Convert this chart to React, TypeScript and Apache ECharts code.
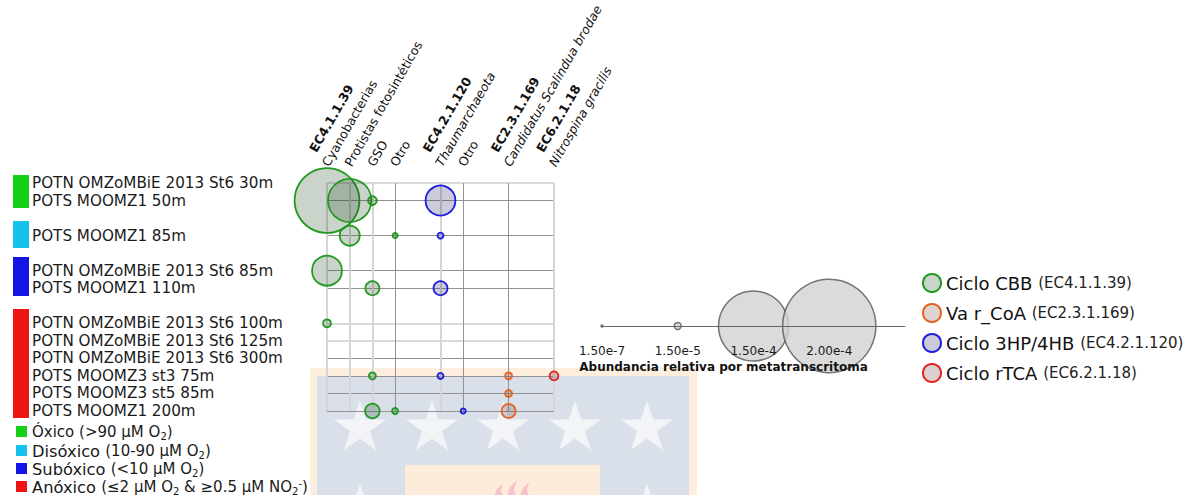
import React, { useEffect, useRef } from "react";
import * as echarts from "echarts";

const FONT = "DejaVu Sans";

// ---- categories ----
const samples = [
  "POTN OMZoMBiE 2013 St6 30m",
  "POTS MOOMZ1 50m",
  "",
  "POTS MOOMZ1 85m",
  "",
  "POTN OMZoMBiE 2013 St6 85m",
  "POTS MOOMZ1 110m",
  "",
  "POTN OMZoMBiE 2013 St6 100m",
  "POTN OMZoMBiE 2013 St6 125m",
  "POTN OMZoMBiE 2013 St6 300m",
  "POTS MOOMZ3 st3 75m",
  "POTS MOOMZ3 st5 85m",
  "POTS MOOMZ1 200m",
];

const taxa = [
  "Cyanobacterias",
  "Protistas fotosintéticos",
  "GSO",
  "Otro",
  "",
  "Thaumarchaeota",
  "Otro",
  "",
  "Candidatus Scalindua brodae",
  "",
  "Nitrospina gracilis",
];
const ecHeaders = ["EC4.1.1.39", "", "", "", "", "EC4.2.1.120", "", "", "EC2.3.1.169", "", "EC6.2.1.18"];
const italicTaxa = [false, false, false, false, false, true, false, false, true, false, true];

// ---- series: [taxon index, sample index, relative abundance] ----
const cycleNames = ["Ciclo CBB", "Va r_CoA", "Ciclo 3HP/4HB", "Ciclo rTCA"];
const cycleEC = ["EC4.1.1.39", "EC2.3.1.169", "EC4.2.1.120", "EC6.2.1.18"];

const cbbData = [
  [0, 1, 1.39e-4],
  [1, 1, 9.3e-5],
  [2, 1, 1.9e-5],
  [1, 3, 4.3e-5],
  [3, 3, 1.1e-5],
  [0, 5, 6.4e-5],
  [2, 6, 3.0e-5],
  [0, 8, 1.7e-5],
  [2, 11, 1.5e-5],
  [2, 13, 3.1e-5],
  [3, 13, 1.3e-5],
];
const hpData = [
  [5, 1, 6.4e-5],
  [5, 3, 1.3e-5],
  [5, 6, 3.0e-5],
  [5, 11, 1.3e-5],
  [6, 13, 1.1e-5],
];
const coaData = [
  [8, 11, 1.5e-5],
  [8, 12, 1.5e-5],
  [8, 13, 3.0e-5],
];
const rtcaData = [[10, 11, 1.9e-5]];

// size legend
const sizeLegendValues = [1.5e-7, 1.5e-5, 1.5e-4, 2.0e-4];
const sizeLegendLabels = ["1.50e-7", "1.50e-5", "1.50e-4", "2.00e-4", ""];

// ---- styles ----
const SIZE_K = 466667; // symbol diameter (px) per unit of relative abundance
const cycleStroke = ["#1f9a1f", "#e8601e", "#1c1ce0", "#e62222"];
const cycleFill = [
  "rgba(30,70,30,0.23)",
  "rgba(95,60,45,0.22)",
  "rgba(30,30,95,0.23)",
  "rgba(95,40,40,0.22)",
];
const xDarkLines = [3, 6, 8];
const xLightLines = [0, 1, 2, 5, 10];
const yDarkLines = [1, 3, 5, 6, 10, 11, 12, 13];
const yLightLines = [0, 8, 9];

function starPoints(cx: number, cy: number, R: number): number[][] {
  const pts: number[][] = [];
  const r = R * 0.382;
  for (let i = 0; i < 10; i++) {
    const ang = -Math.PI / 2 + (i * Math.PI) / 5;
    const rad = i % 2 === 0 ? R : r;
    pts.push([cx + rad * Math.cos(ang), cy + rad * Math.sin(ang)]);
  }
  return pts;
}

export default function App() {
  const ref = useRef<HTMLDivElement>(null);

  useEffect(() => {
    if (!ref.current) return;
    const chart = echarts.init(ref.current, undefined, { renderer: "svg" });

    const seriesData = [cbbData, coaData, hpData, rtcaData];
    const drawOrder = [0, 2, 1, 3];

    const watermark: any[] = [
      { type: "rect", z: -10, silent: true, shape: { x: 310, y: 368, width: 387, height: 140 }, style: { fill: "#fdeedd" } },
      { type: "rect", z: -9, silent: true, shape: { x: 317, y: 376, width: 372, height: 130 }, style: { fill: "#d9e0ea" } },
    ];
    [360, 432, 503, 575, 647].forEach((cx) =>
      watermark.push({ type: "polygon", z: -8, silent: true, shape: { points: starPoints(cx, 428, 27.5) }, style: { fill: "#f2f4f7" } })
    );
    [360, 647].forEach((cx) =>
      watermark.push({ type: "polygon", z: -8, silent: true, shape: { points: starPoints(cx, 511, 27.5) }, style: { fill: "#f2f4f7" } })
    );
    watermark.push({ type: "rect", z: -8, silent: true, shape: { x: 405, y: 465, width: 195, height: 40 }, style: { fill: "#fdecd9" } });
    watermark.push(
      { type: "polygon", z: -7, silent: true, shape: { points: [[494, 496], [497, 489], [503, 483], [501, 490], [503, 496]] }, style: { fill: "#f6c3cc" } },
      { type: "polygon", z: -7, silent: true, shape: { points: [[507, 496], [510, 487], [517, 480], [514, 489], [516, 496]] }, style: { fill: "#f6c3cc" } },
      { type: "polygon", z: -7, silent: true, shape: { points: [[520, 496], [523, 488], [529, 482], [527, 490], [529, 496]] }, style: { fill: "#f6c3cc" } }
    );

    const leftBars: any[] = [
      { type: "rect", shape: { x: 13, y: 175, width: 16, height: 33 }, style: { fill: "#14d014" } },
      { type: "rect", shape: { x: 13, y: 221, width: 16, height: 27 }, style: { fill: "#15c2ec" } },
      { type: "rect", shape: { x: 13, y: 257, width: 16, height: 39 }, style: { fill: "#1414e6" } },
      { type: "rect", shape: { x: 13, y: 309, width: 16, height: 109 }, style: { fill: "#ee1414" } },
    ];

    const oxyColors = ["#14d014", "#15c2ec", "#1414e6", "#ee1414"];
    const oxyTexts = [
      "{t|Óxico (>90 µM O}{s|2}{t|)}",
      "{a|Disóxico }{t|(10-90 µM O}{s|2}{t|)}",
      "{a|Subóxico }{t|(<10 µM O}{s|2}{t|)}",
      "{a|Anóxico }{t|(≤2 µM O}{s|2}{t| & ≥0.5 µM NO}{s|2}{u|-}{t|)}",
    ];
    const oxyY = [432, 451, 469, 487];
    const oxyLegend: any[] = [];
    oxyTexts.forEach((txt, i) => {
      oxyLegend.push({ type: "rect", shape: { x: 16, y: oxyY[i] - 6, width: 11, height: 11 }, style: { fill: oxyColors[i] } });
      oxyLegend.push({
        type: "text",
        x: 32,
        y: oxyY[i],
        style: {
          text: txt,
          fill: "#1a1a1a",
          verticalAlign: "middle",
          rich: {
            t: { fontFamily: FONT, fontSize: 15, lineHeight: 18, fill: "#1a1a1a", verticalAlign: "middle" },
            a: { fontFamily: FONT, fontSize: 16.3, lineHeight: 18, fill: "#1a1a1a", verticalAlign: "middle" },
            s: { fontFamily: FONT, fontSize: 10, lineHeight: 18, fill: "#1a1a1a", verticalAlign: "bottom" },
            u: { fontFamily: FONT, fontSize: 10, lineHeight: 18, fill: "#1a1a1a", verticalAlign: "top" },
          },
        },
      });
    });

    const option: any = {
      animation: false,
      textStyle: { fontFamily: FONT },
      grid: [
        { left: 327, top: 183, width: 227, height: 228, containLabel: false, outerBoundsMode: "none" },
        { left: 602, top: 316, width: 303, height: 20, containLabel: false, outerBoundsMode: "none" },
      ],
      xAxis: [
        {
          type: "category",
          gridIndex: 0,
          position: "top",
          data: taxa,
          boundaryGap: false,
          axisLine: { show: false },
          axisTick: { show: false },
          axisLabel: {
            interval: 0,
            rotate: -60,
            align: "left",
            verticalAlign: "bottom",
            margin: 3,
            formatter: (_v: string, idx: number) => {
              const name = taxa[idx];
              if (!name) return "";
              const st = italicTaxa[idx] ? "i" : "n";
              return `{b|${ecHeaders[idx] || " "}}\n{${st}|${name}}`;
            },
            rich: {
              b: { fontFamily: FONT, fontSize: 12.5, fontWeight: "bold", lineHeight: 18, color: "#111", padding: [0, 0, 0, 18] },
              n: { fontFamily: FONT, fontSize: 12.5, lineHeight: 18, color: "#111", padding: [0, 0, 0, 12] },
              i: { fontFamily: FONT, fontSize: 12.5, fontStyle: "italic", lineHeight: 18, color: "#111", padding: [0, 0, 0, 12] },
            },
          },
          splitLine: { show: true, interval: (i: number) => xDarkLines.includes(i), lineStyle: { color: "#939393", width: 1 } },
        },
        {
          type: "category",
          gridIndex: 0,
          position: "top",
          data: taxa,
          boundaryGap: false,
          axisLine: { show: false },
          axisTick: { show: false },
          axisLabel: { show: false },
          splitLine: { show: true, interval: (i: number) => xLightLines.includes(i), lineStyle: { color: "#d6d6d6", width: 2 } },
        },
        {
          type: "category",
          gridIndex: 1,
          position: "bottom",
          data: sizeLegendLabels,
          boundaryGap: false,
          z: 10,
          axisLine: { show: true, onZero: true, lineStyle: { color: "#666", width: 1 } },
          axisTick: { show: false },
          axisLabel: { interval: 0, fontSize: 12, color: "#1a1a1a", margin: 9, fontFamily: FONT },
          splitLine: { show: false },
          name: "Abundancia relativa por metatranscritoma",
          nameLocation: "middle",
          nameGap: 25,
          nameTextStyle: { fontFamily: FONT, fontWeight: "bold", fontSize: 12, color: "#111", padding: [0, 60, 0, 0] },
        },
      ],
      yAxis: [
        {
          type: "category",
          gridIndex: 0,
          data: samples,
          inverse: true,
          boundaryGap: false,
          axisLine: { show: false },
          axisTick: { show: false },
          axisLabel: { interval: 0, align: "left", margin: 295, fontSize: 15.2, color: "#1a1a1a", fontFamily: FONT },
          splitLine: { show: true, interval: (i: number) => yDarkLines.includes(i), lineStyle: { color: "#939393", width: 1 } },
        },
        {
          type: "category",
          gridIndex: 0,
          data: samples,
          inverse: true,
          boundaryGap: false,
          axisLine: { show: false },
          axisTick: { show: false },
          axisLabel: { show: false },
          splitLine: { show: true, interval: (i: number) => yLightLines.includes(i), lineStyle: { color: "#d9d9d9", width: 2 } },
        },
        { type: "value", gridIndex: 1, min: -1, max: 1, axisLine: { show: false }, axisTick: { show: false }, axisLabel: { show: false }, splitLine: { show: false } },
      ],
      legend: {
        data: cycleNames,
        orient: "vertical",
        left: 917,
        top: 268,
        icon: "circle",
        itemWidth: 18,
        itemHeight: 18,
        itemGap: 10,
        selectedMode: false,
        formatter: (name: string) => `${name} {s|(${cycleEC[cycleNames.indexOf(name)]})}`,
        textStyle: {
          fontFamily: FONT,
          fontSize: 18,
          color: "#111",
          rich: { s: { fontFamily: FONT, fontSize: 15, color: "#222" } },
        },
      },
      graphic: { elements: [...watermark, ...leftBars, ...oxyLegend] },
      series: [
        ...drawOrder.map((ci) => ({
          type: "scatter",
          name: cycleNames[ci],
          xAxisIndex: 0,
          yAxisIndex: 0,
          data: seriesData[ci],
          symbol: "circle",
          symbolSize: (d: number[]) => d[2] * SIZE_K,
          clip: false,
          itemStyle: { color: cycleFill[ci], borderColor: cycleStroke[ci], borderWidth: 1.8, opacity: 1 },
          emphasis: { disabled: true },
        })),
        {
          type: "scatter",
          name: "size",
          xAxisIndex: 2,
          yAxisIndex: 2,
          data: sizeLegendValues.map((v, i) => [i, 0, v]),
          symbol: "circle",
          symbolSize: (d: number[]) => Math.max(d[2] * SIZE_K, 2),
          clip: false,
          itemStyle: { color: "#d2d2d2", borderColor: "#555", borderWidth: 1.5 },
          emphasis: { disabled: true },
        },
      ],
    };

    chart.setOption(option);
    return () => chart.dispose();
  }, []);

  return (
    <div
      ref={ref}
      style={{ position: "fixed", left: 0, top: 0, width: 1196, height: 495, background: "#ffffff" }}
    />
  );
}
